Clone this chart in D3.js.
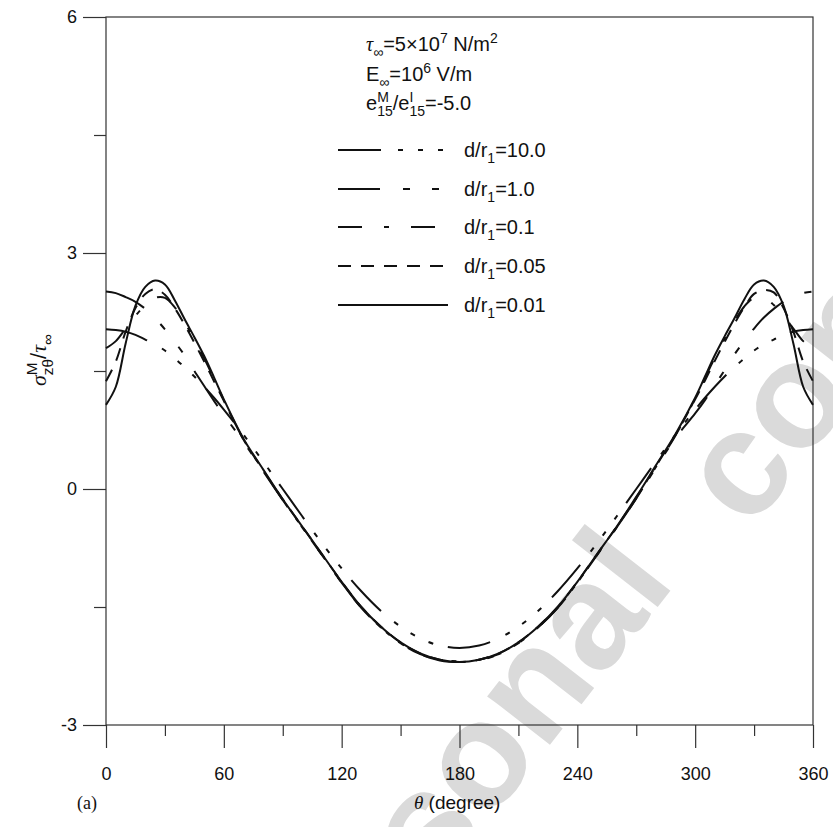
<!DOCTYPE html>
<html>
<head>
<meta charset="utf-8">
<script src="https://cdn.jsdelivr.net/npm/d3@7"></script>
<style>
  body { margin: 0; background: #fff; }
  text { white-space: pre; }
</style>
</head>
<body>
<svg id="chart" width="833" height="827"></svg>
<script>
// theta (degree) sample points
const theta = [0,5,10,15,20,25,30,35,40,45,50,55,60,70,80,90,100,110,120,130,140,150,160,170,180,
  190,200,210,220,230,240,250,260,270,280,290,300,305,310,315,320,325,330,335,340,345,350,355,360];

// sigma_ztheta^M / tau_inf, one array per d/r1
const s10 = [2.03,2.02,2.00,1.96,1.90,1.84,1.76,1.66,1.55,1.43,1.30,1.16,1.01,0.69,0.35,0.00,-0.35,-0.69,-1.01,-1.30,-1.55,-1.75,-1.90,-1.99,-2.02,
  -1.99,-1.90,-1.75,-1.55,-1.30,-1.01,-0.69,-0.35,0.00,0.35,0.69,1.01,1.16,1.30,1.43,1.55,1.66,1.76,1.84,1.90,1.96,2.00,2.02,2.03];
const s1 = [2.51,2.49,2.44,2.38,2.29,2.17,2.03,1.87,1.70,1.50,1.31,1.12,0.94,0.60,0.23,-0.14,-0.49,-0.84,-1.19,-1.51,-1.76,-1.96,-2.10,-2.18,-2.20,
  -2.18,-2.10,-1.96,-1.76,-1.51,-1.19,-0.84,-0.49,-0.12,0.27,0.65,0.96,1.13,1.32,1.51,1.71,1.88,2.04,2.18,2.29,2.38,2.44,2.49,2.51];
const s01 = [1.79,1.88,2.04,2.20,2.34,2.43,2.43,2.31,2.12,1.90,1.66,1.40,1.13,0.63,0.24,-0.14,-0.49,-0.84,-1.19,-1.51,-1.76,-1.96,-2.10,-2.17,-2.19,
  -2.17,-2.10,-1.96,-1.76,-1.51,-1.19,-0.84,-0.49,-0.12,0.28,0.68,1.15,1.41,1.67,1.91,2.13,2.32,2.43,2.43,2.34,2.20,2.04,1.88,1.79];
const s005 = [1.37,1.62,2.00,2.30,2.48,2.54,2.47,2.30,2.09,1.86,1.62,1.37,1.12,0.63,0.24,-0.13,-0.48,-0.83,-1.18,-1.50,-1.75,-1.95,-2.09,-2.17,-2.20,
  -2.17,-2.09,-1.95,-1.75,-1.50,-1.18,-0.83,-0.48,-0.11,0.29,0.69,1.14,1.38,1.63,1.87,2.10,2.31,2.48,2.53,2.50,2.30,2.00,1.62,1.37];
const s001 = [1.07,1.30,1.85,2.33,2.57,2.65,2.60,2.40,2.16,1.93,1.69,1.42,1.14,0.64,0.25,-0.13,-0.48,-0.83,-1.18,-1.50,-1.75,-1.95,-2.09,-2.17,-2.20,
  -2.17,-2.09,-1.95,-1.75,-1.50,-1.18,-0.83,-0.48,-0.10,0.30,0.70,1.16,1.43,1.70,1.94,2.17,2.41,2.60,2.65,2.57,2.33,1.85,1.30,1.07];

const ratioLabels = ['10.0', '1.0', '0.1', '0.05', '0.01'];
const xMajor = [0, 60, 120, 180, 240, 300, 360];
const xMinor = [30, 90, 150, 210, 270, 330];
const yMajor = [-3, 0, 3, 6];
const yMinor = [-1.5, 1.5, 4.5];

const allSeries = [s10, s1, s01, s005, s001];
const dashes = ['43 17 5 15 5 15 5 15', '42 23 7 22 7 22', '24 22 5 22', '13 10', null];

const sans = '"Liberation Sans", Arial, Helvetica, sans-serif';
const serif = '"Liberation Serif", "Times New Roman", serif';

const svg = d3.select('#chart');
const x = d3.scaleLinear().domain([0, 360]).range([106, 813]);
const y = d3.scaleLinear().domain([-3, 6]).range([725, 17]);

// watermark, two words
[['personal', 292, 1075], ['copy', 750, 532]].forEach(([w, tx, ty]) => {
  svg.append('text')
    .attr('transform', `translate(${tx},${ty}) rotate(-52)`)
    .style('font-family', sans)
    .style('font-weight', 'bold')
    .style('font-size', '150px')
    .attr('fill', '#dadada')
    .text(w);
});

// draws text made of pieces (sup / sub / stacked) starting at x0, baseline y0
function richText(parent, x0, y0, parts, size) {
  let cx = x0, lastStart = x0;
  parts.forEach(p => {
    const fs = p.small ? size * 0.7 : size;
    const dy = p.sup ? -size * 0.42 : (p.sub ? size * 0.3 : 0);
    const start = p.stack ? lastStart : cx;
    const t = parent.append('text')
      .attr('x', start)
      .attr('y', y0 + dy)
      .attr('fill', '#111')
      .style('font-family', p.serif ? serif : sans)
      .style('font-style', p.italic ? 'italic' : 'normal')
      .style('font-size', fs + 'px')
      .text(p.t);
    const w = t.node().getComputedTextLength();
    if (p.stack) cx = Math.max(cx, start + w);
    else { lastStart = start; cx = start + w; }
  });
}

// axes
const fmt = d => String(d);
const axG = svg.append('g');
axG.append('g')
  .attr('transform', 'translate(106,0)')
  .call(d3.axisLeft(y).tickValues(yMajor).tickFormat(fmt).tickSize(23).tickSizeOuter(0).tickPadding(6));
axG.append('g')
  .attr('transform', 'translate(106,0)')
  .call(d3.axisLeft(y).tickValues(yMinor).tickSize(12).tickSizeOuter(0).tickFormat(''));
axG.append('g')
  .attr('transform', 'translate(0,725)')
  .call(d3.axisBottom(x).tickValues(xMajor).tickFormat(fmt).tickSize(23).tickSizeOuter(0).tickPadding(19));
axG.append('g')
  .attr('transform', 'translate(0,725)')
  .call(d3.axisBottom(x).tickValues(xMinor).tickSize(11).tickSizeOuter(0).tickFormat(''));
axG.selectAll('.domain').remove();
axG.selectAll('line').attr('stroke', '#333').attr('stroke-width', 1.2);
axG.selectAll('text')
  .style('font-family', sans)
  .style('font-size', '18px')
  .attr('fill', '#111');

svg.append('rect')
  .attr('x', x(0)).attr('y', y(6))
  .attr('width', x(360) - x(0)).attr('height', y(-3) - y(6))
  .attr('fill', 'none').attr('stroke', '#333').attr('stroke-width', 1.2);

// curves
const line = d3.line()
  .x((d, i) => x(theta[i]))
  .y(d => y(d))
  .curve(d3.curveCatmullRom.alpha(0.5));

allSeries.forEach((vals, k) => {
  svg.append('path')
    .datum(vals)
    .attr('d', line)
    .attr('fill', 'none')
    .attr('stroke', '#111')
    .attr('stroke-width', 2)
    .attr('stroke-dasharray', dashes[k]);
});

// header text
richText(svg, 366, 51, [
  {t: 'τ', serif: true, italic: true},
  {t: '∞', small: true, sub: true},
  {t: '=5×10'}, {t: '7', small: true, sup: true}, {t: ' N/m'}, {t: '2', small: true, sup: true}
], 20);
richText(svg, 366, 81, [
  {t: 'E'}, {t: '∞', small: true, sub: true},
  {t: '=10'}, {t: '6', small: true, sup: true}, {t: ' V/m'}
], 20);
richText(svg, 366, 110, [
  {t: 'e'}, {t: 'M', small: true, sup: true}, {t: '15', small: true, sub: true, stack: true},
  {t: '/e'}, {t: 'I', small: true, sup: true}, {t: '15', small: true, sub: true, stack: true},
  {t: '=-5.0'}
], 20);

// legend
const rowY = [150, 189, 227, 266, 305];
ratioLabels.forEach((lab, k) => {
  svg.append('line')
    .attr('x1', 338).attr('x2', 448)
    .attr('y1', rowY[k]).attr('y2', rowY[k])
    .attr('stroke', '#111').attr('stroke-width', 2)
    .attr('stroke-dasharray', dashes[k]);
  richText(svg, 464, rowY[k] + 7, [
    {t: 'd/r'}, {t: '1', small: true, sub: true}, {t: '=' + lab}
  ], 20);
});

// y label
const yl = svg.append('g').attr('transform', 'translate(46,386) rotate(-90)');
richText(yl, 0, 0, [
  {t: 'σ', serif: true, italic: true},
  {t: 'M', small: true, sup: true}, {t: 'zθ', small: true, sub: true, stack: true},
  {t: '/'}, {t: 'τ', serif: true, italic: true}, {t: '∞', small: true, sub: true}
], 22);

// x label
richText(svg, 414, 809, [
  {t: 'θ', serif: true, italic: true}, {t: ' (degree)'}
], 19);
svg.append('text')
  .attr('x', 77).attr('y', 809)
  .style('font-family', serif)
  .style('font-size', '18px')
  .attr('fill', '#111')
  .text('(a)');
</script>
</body>
</html>
